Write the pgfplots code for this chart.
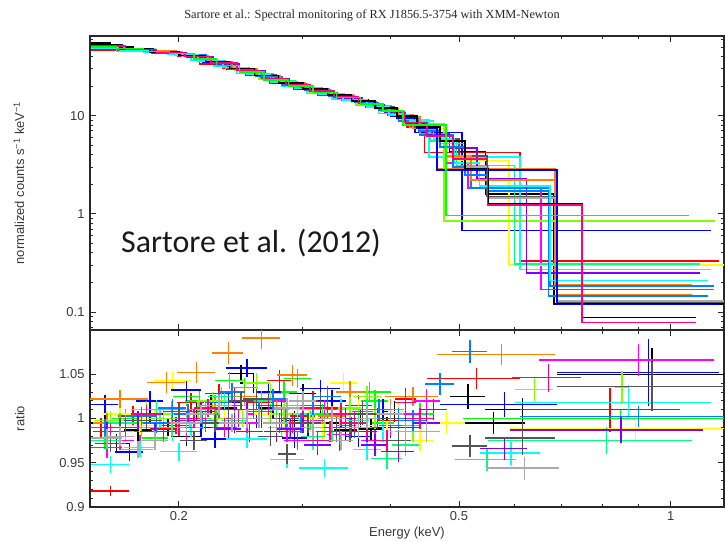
\documentclass[border=0pt]{standalone}
\usepackage{fontspec}
\setmainfont{Liberation Sans}
\newfontfamily\serifT{Liberation Serif}
\newfontfamily\calib{Carlito}
\usepackage{pgfplots}
\usepackage{pgfplotstable}
\pgfplotsset{compat=1.18}
\definecolor{xk}{HTML}{000000}
\definecolor{xr}{HTML}{FF0000}
\definecolor{xg}{HTML}{00FF00}
\definecolor{xb}{HTML}{0000FF}
\definecolor{xc}{HTML}{00FFFF}
\definecolor{xm}{HTML}{FF00FF}
\definecolor{xy}{HTML}{FFFF00}
\definecolor{xo}{HTML}{FF8000}
\definecolor{xl}{HTML}{80FF00}
\definecolor{xs}{HTML}{00FF80}
\definecolor{xa}{HTML}{0080FF}
\definecolor{xv}{HTML}{8000FF}
\definecolor{xp}{HTML}{FF0080}
\definecolor{xd}{HTML}{555555}
\definecolor{xe}{HTML}{AAAAAA}
\definecolor{lab}{RGB}{55,55,65}
\definecolor{axc}{RGB}{40,40,40}

\pgfplotsset{
  xspec/.style={
    scale only axis, xmin=0.1495, xmax=1.19,
    axis line style={draw=axc, line width=1.2bp},
    every tick/.style={draw=axc, line width=0.9bp},
    tick align=inside, xtick pos=both, ytick pos=both,
    major tick length=6bp, minor tick length=3.5bp,
    xtick={0.2,0.5,1}, minor xtick={0.3,0.4,0.6,0.7,0.8,0.9},
    every tick label/.append style={font=\fontsize{13}{13}\selectfont, text=lab},
    every axis label/.append style={font=\fontsize{13}{13}\selectfont, text=lab},
    /pgf/number format/assume math mode=true,
  },
}

% ratio data: x y ex ey
\pgfplotstableread[row sep=\\]{x y ex ey\\
0.157 0.995 0.007 0.010\\ 0.175 0.987 0.008 0.012\\ 0.193 0.990 0.008 0.010\\ 0.212 1.008 0.009 0.010\\
0.232 1.012 0.010 0.009\\ 0.245 1.051 0.010 0.009\\ 0.268 1.022 0.011 0.010\\ 0.292 0.998 0.012 0.010\\
0.318 1.010 0.012 0.011\\ 0.345 0.987 0.013 0.011\\ 0.375 0.988 0.014 0.012\\ 0.405 1.008 0.014 0.012\\
0.515 1.025 0.030 0.014\\ 0.615 1.010 0.070 0.013\\ 0.560 0.995 0.060 0.012\\ 0.940 1.050 0.250 0.030\\
0.163 0.972 0.0075 0.011\\ 0.182 1.005 0.008 0.011\\ 0.205 0.980 0.009 0.011\\ 0.222 1.015 0.010 0.011\\
0.255 1.040 0.011 0.011\\ 0.272 1.012 0.012 0.011\\ 0.300 1.028 0.013 0.011\\ 0.330 0.995 0.015 0.011\\
0.362 1.000 0.016 0.012\\ 0.395 0.990 0.018 0.012\\ 0.440 1.000 0.020 0.012\\
}\rK
\pgfplotstableread[row sep=\\]{x y ex ey\\
0.160 0.918 0.010 0.006\\ 0.180 1.000 0.009 0.010\\ 0.198 0.992 0.009 0.010\\ 0.218 1.005 0.010 0.010\\
0.240 1.025 0.010 0.010\\ 0.262 1.018 0.011 0.010\\ 0.278 1.043 0.011 0.012\\ 0.300 1.003 0.012 0.011\\
0.325 1.012 0.012 0.011\\ 0.352 0.990 0.013 0.012\\ 0.383 1.000 0.014 0.012\\ 0.420 1.022 0.015 0.012\\
0.530 1.045 0.080 0.012\\ 0.820 1.010 0.210 0.025\\
0.155 0.990 0.007 0.011\\ 0.172 1.003 0.008 0.011\\ 0.190 0.988 0.008 0.011\\ 0.208 1.018 0.009 0.011\\
0.228 1.028 0.010 0.011\\ 0.252 0.985 0.011 0.011\\ 0.275 1.010 0.012 0.011\\ 0.310 1.020 0.014 0.011\\
0.338 0.975 0.015 0.012\\ 0.360 1.015 0.016 0.012\\ 0.400 0.998 0.018 0.012\\ 0.460 1.010 0.020 0.012\\
}\rR
\pgfplotstableread[row sep=\\]{x y ex ey\\
0.157 0.975 0.007 0.010\\ 0.176 0.995 0.009 0.010\\ 0.195 1.010 0.009 0.010\\ 0.214 1.020 0.010 0.011\\
0.236 1.043 0.011 0.010\\ 0.258 1.010 0.011 0.010\\ 0.282 1.030 0.012 0.012\\ 0.307 0.998 0.012 0.011\\
0.373 1.030 0.027 0.011\\ 0.360 1.000 0.013 0.012\\ 0.390 0.995 0.014 0.012\\ 0.440 1.005 0.020 0.013\\
0.848 1.000 0.342 0.010\\
0.168 1.000 0.0075 0.011\\ 0.185 0.978 0.008 0.011\\ 0.205 1.025 0.009 0.011\\ 0.226 1.000 0.010 0.011\\
0.248 1.035 0.011 0.011\\ 0.270 1.005 0.012 0.011\\ 0.295 1.045 0.013 0.011\\ 0.320 1.005 0.014 0.011\\
0.350 0.985 0.016 0.012\\ 0.380 1.020 0.017 0.012\\ 0.420 0.992 0.019 0.012\\
}\rG
\pgfplotstableread[row sep=\\]{x y ex ey\\
0.157 1.016 0.007 0.010\\ 0.170 0.962 0.008 0.010\\ 0.190 0.985 0.009 0.010\\ 0.205 1.032 0.010 0.012\\
0.225 0.977 0.010 0.010\\ 0.250 1.057 0.017 0.010\\ 0.268 1.030 0.011 0.011\\ 0.292 0.978 0.012 0.011\\
0.318 1.034 0.021 0.010\\ 0.340 1.000 0.013 0.011\\ 0.370 1.005 0.014 0.012\\ 0.400 0.990 0.015 0.012\\
0.580 1.016 0.110 0.014\\ 0.930 1.052 0.240 0.038\\
0.165 0.985 0.0075 0.011\\ 0.182 1.020 0.008 0.011\\ 0.200 1.005 0.009 0.011\\ 0.215 0.990 0.010 0.011\\
0.235 1.018 0.010 0.011\\ 0.258 1.000 0.011 0.011\\ 0.280 1.012 0.012 0.011\\ 0.305 0.990 0.013 0.011\\
0.330 1.020 0.015 0.012\\ 0.360 0.980 0.016 0.012\\ 0.390 1.010 0.018 0.012\\ 0.430 0.985 0.019 0.012\\
}\rB
\pgfplotstableread[row sep=\\]{x y ex ey\\
0.160 0.948 0.010 0.010\\ 0.176 0.967 0.009 0.010\\ 0.200 0.9625 0.012 0.010\\ 0.215 1.010 0.010 0.010\\
0.250 0.977 0.017 0.010\\ 0.285 0.954 0.016 0.010\\ 0.300 1.005 0.012 0.010\\ 0.322 0.944 0.026 0.010\\
0.350 1.000 0.013 0.011\\ 0.390 0.985 0.014 0.012\\ 0.450 0.995 0.020 0.012\\ 0.593 0.961 0.058 0.013\\
0.870 1.018 0.270 0.020\\
0.168 0.985 0.0075 0.011\\ 0.188 1.000 0.008 0.011\\ 0.208 0.990 0.009 0.011\\ 0.232 1.020 0.010 0.011\\
0.260 1.000 0.011 0.011\\ 0.280 0.990 0.012 0.011\\ 0.310 0.975 0.014 0.011\\ 0.340 1.010 0.015 0.012\\
0.370 0.965 0.017 0.012\\ 0.410 1.000 0.018 0.012\\
}\rC
\pgfplotstableread[row sep=\\]{x y ex ey\\
0.158 0.967 0.008 0.012\\ 0.176 0.985 0.009 0.010\\ 0.196 1.000 0.009 0.010\\ 0.218 0.995 0.010 0.010\\
0.240 1.015 0.010 0.010\\ 0.262 1.005 0.011 0.011\\ 0.285 0.985 0.012 0.011\\ 0.310 0.998 0.012 0.011\\
0.338 0.982 0.013 0.011\\ 0.365 1.008 0.013 0.012\\ 0.400 0.992 0.015 0.012\\ 0.450 1.020 0.020 0.013\\
0.900 1.066 0.250 0.018\\
0.165 0.975 0.0075 0.011\\ 0.185 0.990 0.008 0.011\\ 0.205 0.985 0.009 0.011\\ 0.228 1.010 0.010 0.011\\
0.250 0.995 0.011 0.011\\ 0.272 1.020 0.012 0.011\\ 0.295 0.975 0.013 0.011\\ 0.322 1.010 0.014 0.011\\
0.350 0.992 0.016 0.012\\ 0.380 0.975 0.017 0.012\\ 0.420 1.005 0.019 0.012\\
}\rM
\pgfplotstableread[row sep=\\]{x y ex ey\\
0.165 1.005 0.009 0.010\\ 0.185 1.000 0.010 0.010\\ 0.196 1.043 0.012 0.010\\ 0.232 1.000 0.010 0.010\\
0.258 1.015 0.011 0.010\\ 0.283 0.995 0.011 0.011\\ 0.306 1.000 0.012 0.010\\ 0.343 1.040 0.015 0.011\\
0.370 0.992 0.013 0.012\\ 0.410 1.008 0.014 0.012\\ 0.480 0.995 0.030 0.012\\ 0.890 0.989 0.300 0.016\\
0.158 0.998 0.007 0.011\\ 0.176 0.992 0.008 0.011\\ 0.215 1.010 0.010 0.011\\ 0.245 1.020 0.011 0.011\\
0.268 1.005 0.012 0.011\\ 0.295 1.010 0.013 0.011\\ 0.320 0.985 0.014 0.011\\ 0.360 1.010 0.016 0.012\\
0.395 0.985 0.018 0.012\\ 0.440 0.975 0.020 0.012\\
}\rY
\pgfplotstableread[row sep=\\]{x y ex ey\\
0.165 1.022 0.016 0.010\\ 0.192 1.041 0.012 0.012\\ 0.212 1.052 0.013 0.012\\ 0.235 1.074 0.012 0.012\\
0.262 1.091 0.016 0.012\\ 0.290 1.049 0.014 0.012\\ 0.330 1.003 0.015 0.011\\ 0.370 1.005 0.020 0.012\\
0.430 1.025 0.037 0.011\\ 0.575 1.072 0.110 0.012\\
0.158 0.995 0.007 0.011\\ 0.180 1.005 0.008 0.011\\ 0.200 0.995 0.009 0.011\\ 0.225 1.015 0.010 0.011\\
0.248 1.025 0.011 0.011\\ 0.275 1.010 0.012 0.011\\ 0.310 0.995 0.014 0.011\\ 0.350 1.030 0.016 0.012\\
0.400 1.010 0.018 0.012\\
}\rO
\pgfplotstableread[row sep=\\]{x y ex ey\\
0.160 0.998 0.008 0.010\\ 0.180 1.010 0.009 0.010\\ 0.200 1.005 0.010 0.010\\ 0.223 1.020 0.010 0.010\\
0.246 1.000 0.011 0.010\\ 0.270 1.028 0.011 0.011\\ 0.295 1.015 0.012 0.011\\ 0.322 0.990 0.012 0.011\\
0.350 1.012 0.013 0.012\\ 0.380 1.000 0.014 0.012\\ 0.430 0.985 0.020 0.012\\ 0.640 1.033 0.040 0.013\\
0.852 1.035 0.020 0.019\\
0.165 0.985 0.0075 0.011\\ 0.190 1.000 0.009 0.011\\ 0.213 1.010 0.010 0.011\\ 0.235 1.000 0.010 0.011\\
0.258 1.040 0.011 0.011\\ 0.282 1.005 0.012 0.011\\ 0.310 1.010 0.014 0.011\\ 0.338 1.000 0.015 0.012\\
0.370 1.025 0.017 0.012\\ 0.410 1.000 0.018 0.012\\
}\rL
\pgfplotstableread[row sep=\\]{x y ex ey\\
0.158 0.975 0.008 0.010\\ 0.177 0.990 0.009 0.010\\ 0.196 0.985 0.009 0.010\\ 0.218 1.010 0.010 0.010\\
0.240 0.998 0.010 0.010\\ 0.262 1.020 0.011 0.011\\ 0.287 0.990 0.012 0.011\\ 0.310 0.980 0.012 0.011\\
0.395 0.955 0.020 0.012\\ 0.360 0.998 0.013 0.012\\ 0.548 0.954 0.055 0.013\\ 0.810 0.975 0.260 0.015\\
0.165 0.995 0.0075 0.011\\ 0.186 1.010 0.008 0.011\\ 0.207 1.000 0.009 0.011\\ 0.230 1.025 0.010 0.011\\
0.250 1.010 0.011 0.011\\ 0.275 1.000 0.012 0.011\\ 0.300 1.015 0.013 0.011\\ 0.330 0.985 0.015 0.012\\
0.370 1.010 0.017 0.012\\ 0.420 0.970 0.019 0.012\\
}\rS
\pgfplotstableread[row sep=\\]{x y ex ey\\
0.157 0.990 0.007 0.010\\ 0.177 1.003 0.009 0.010\\ 0.196 1.012 0.009 0.010\\ 0.216 0.998 0.010 0.010\\
0.238 1.030 0.010 0.010\\ 0.260 1.008 0.011 0.011\\ 0.284 1.000 0.012 0.011\\ 0.310 1.015 0.012 0.011\\
0.335 0.985 0.013 0.011\\ 0.470 1.039 0.022 0.012\\ 0.410 1.000 0.014 0.012\\ 0.518 1.076 0.030 0.013\\
0.900 1.002 0.290 0.012\\
0.165 0.980 0.0075 0.011\\ 0.186 0.995 0.008 0.011\\ 0.206 1.005 0.009 0.011\\ 0.228 1.018 0.010 0.011\\
0.250 1.000 0.011 0.011\\ 0.272 1.022 0.012 0.011\\ 0.298 0.995 0.013 0.011\\ 0.325 1.025 0.015 0.012\\
0.355 0.990 0.016 0.012\\ 0.385 1.010 0.017 0.012\\ 0.430 0.998 0.019 0.012\\
}\rA
\pgfplotstableread[row sep=\\]{x y ex ey\\
0.165 0.990 0.009 0.010\\ 0.185 0.985 0.009 0.010\\ 0.205 0.998 0.010 0.010\\ 0.235 0.988 0.010 0.010\\
0.250 1.010 0.011 0.010\\ 0.275 0.985 0.011 0.011\\ 0.300 0.995 0.012 0.011\\ 0.410 0.963 0.022 0.012\\
0.370 0.985 0.013 0.012\\ 0.450 0.995 0.020 0.012\\ 0.580 0.966 0.045 0.013\\ 0.850 0.987 0.260 0.015\\
0.158 0.985 0.007 0.011\\ 0.175 0.998 0.008 0.011\\ 0.195 0.990 0.009 0.011\\ 0.215 1.008 0.010 0.011\\
0.240 0.995 0.011 0.011\\ 0.262 1.000 0.012 0.011\\ 0.288 0.988 0.013 0.011\\ 0.315 0.970 0.014 0.011\\
0.345 1.000 0.015 0.012\\ 0.380 0.970 0.017 0.012\\ 0.420 0.990 0.019 0.012\\
}\rV
\pgfplotstableread[row sep=\\]{x y ex ey\\
0.160 0.985 0.008 0.010\\ 0.180 1.005 0.009 0.010\\ 0.200 0.990 0.010 0.010\\ 0.220 1.012 0.010 0.010\\
0.243 1.000 0.010 0.010\\ 0.268 1.015 0.011 0.011\\ 0.290 0.995 0.012 0.011\\ 0.315 0.975 0.012 0.011\\
0.340 1.005 0.013 0.012\\ 0.370 0.990 0.013 0.012\\ 0.420 1.018 0.015 0.012\\ 0.670 1.046 0.075 0.016\\
0.168 0.990 0.0075 0.011\\ 0.190 0.985 0.008 0.011\\ 0.210 1.000 0.009 0.011\\ 0.232 0.990 0.010 0.011\\
0.255 1.010 0.011 0.011\\ 0.278 0.995 0.012 0.011\\ 0.300 1.012 0.013 0.011\\ 0.328 0.985 0.015 0.012\\
0.355 0.995 0.016 0.012\\ 0.395 0.975 0.018 0.012\\ 0.440 1.000 0.020 0.012\\
}\rP
\pgfplotstableread[row sep=\\]{x y ex ey\\
0.160 0.972 0.008 0.010\\ 0.180 0.998 0.009 0.010\\ 0.200 1.008 0.010 0.010\\ 0.225 0.995 0.010 0.010\\
0.245 1.020 0.010 0.010\\ 0.270 0.980 0.011 0.011\\ 0.285 0.960 0.008 0.011\\ 0.318 1.019 0.010 0.011\\
0.350 0.985 0.013 0.012\\ 0.400 1.000 0.014 0.012\\ 0.518 0.969 0.030 0.012\\ 0.615 0.978 0.070 0.019\\
0.940 1.036 0.250 0.028\\
0.165 0.990 0.0075 0.011\\ 0.190 0.985 0.008 0.011\\ 0.210 0.975 0.009 0.011\\ 0.235 1.010 0.010 0.011\\
0.258 1.022 0.011 0.011\\ 0.280 1.000 0.012 0.011\\ 0.305 0.995 0.013 0.011\\ 0.335 0.990 0.015 0.012\\
0.365 1.005 0.016 0.012\\ 0.410 0.975 0.018 0.012\\
}\rD
\pgfplotstableread[row sep=\\]{x y ex ey\\
0.158 0.978 0.008 0.010\\ 0.175 0.965 0.009 0.010\\ 0.195 0.990 0.009 0.010\\ 0.215 1.005 0.010 0.010\\
0.238 0.995 0.010 0.010\\ 0.260 1.000 0.011 0.011\\ 0.285 1.012 0.012 0.011\\ 0.310 0.990 0.012 0.011\\
0.340 0.975 0.013 0.011\\ 0.370 1.000 0.013 0.012\\ 0.420 0.985 0.015 0.012\\ 0.620 0.944 0.074 0.013\\
0.165 0.980 0.0075 0.011\\ 0.185 0.975 0.008 0.011\\ 0.205 0.995 0.009 0.011\\ 0.228 1.015 0.010 0.011\\
0.250 1.000 0.011 0.011\\ 0.275 0.995 0.012 0.011\\ 0.300 1.020 0.013 0.011\\ 0.330 1.000 0.015 0.012\\
0.360 0.990 0.016 0.012\\ 0.400 1.005 0.018 0.012\\ 0.450 0.985 0.020 0.012\\
}\rE

\newcommand{\rplot}[2]{\addplot[draw=none, mark=none,
  error bars/x dir=both, error bars/x explicit,
  error bars/y dir=both, error bars/y explicit,
  error bars/error mark=none,
  error bars/error bar style={line width=1.4bp, draw=#1, solid}]
  table[x=x, y=y, x error=ex, y error=ey] {#2};}
\newcommand{\spec}[2]{\addplot[const plot mark left, line width=1.5bp, color=#1] coordinates {#2};}

\begin{document}
\begin{tikzpicture}
\useasboundingbox (0,0) rectangle (725bp,542bp);
\begin{axis}[xspec, xmode=log, ymode=log, at={(90bp,212bp)}, anchor=south west, width=634bp, height=294bp,
  ymin=0.0656, ymax=64.8,
  xticklabels={},
  ytick={0.1,1,10}, yticklabels={0.1,1,10},
  minor ytick={0.07,0.08,0.09,0.2,0.3,0.4,0.5,0.6,0.7,0.8,0.9,2,3,4,5,6,7,8,9,20,30,40,50,60},
  yticklabel style={xshift=-2bp},
  ylabel={normalized counts s\textsuperscript{−1} keV\textsuperscript{−1}},
  ylabel style={at={(axis description cs:-0.112,0.5)}, anchor=center},
]
\spec{xk}{(0.150,55)(0.160,50)(0.172,46.5)(0.186,44)(0.201,41)(0.216,36)(0.233,31)(0.251,26.5)(0.272,22)(0.294,19.3)(0.318,16.8)(0.344,14.6)(0.372,12.4)(0.398,10.3)(0.424,8.2)(0.452,6.6)(0.485,4.3)(0.545,1.6)(0.682,0.12)(1.19,0.12)}
\spec{xr}{(0.150,46.5)(0.168,47)(0.183,43.5)(0.199,40)(0.214,33.5)(0.231,30.5)(0.249,26)(0.269,21.5)(0.291,18.8)(0.315,16.3)(0.341,14.4)(0.369,12.2)(0.396,10.0)(0.422,7.7)(0.447,4.2)(0.61,0.33)(1.17,0.33)}
\spec{xb}{(0.150,51)(0.166,47)(0.183,44.5)(0.199,41.5)(0.216,35)(0.234,30)(0.252,26)(0.272,21.5)(0.295,18.8)(0.32,16.5)(0.345,14.3)(0.372,12.2)(0.40,9.8)(0.433,6.7)(0.505,0.68)(1.14,0.68)}
\spec{xc}{(0.150,48.5)(0.163,45)(0.178,44)(0.193,42)(0.208,37)(0.224,32)(0.242,27)(0.26,23.5)(0.28,19.8)(0.304,17)(0.33,14.8)(0.357,12.8)(0.384,10.5)(0.412,9.0)(0.453,3.8)(0.61,0.27)(1.14,0.27)}
\spec{xm}{(0.150,52)(0.168,47.5)(0.185,44)(0.203,40.5)(0.22,35)(0.24,29)(0.26,24.5)(0.28,20.5)(0.302,18)(0.327,15.6)(0.354,13.6)(0.382,11.5)(0.41,9.3)(0.44,6.3)(0.48,3.3)(0.515,1.83)(0.654,0.17)(1.15,0.17)}
\spec{xy}{(0.150,51.5)(0.165,47)(0.182,44)(0.2,41)(0.218,35.5)(0.236,29.5)(0.256,25.5)(0.277,21.5)(0.3,18.5)(0.325,16.2)(0.352,13.8)(0.38,11.6)(0.408,9.2)(0.438,7.3)(0.477,3.5)(0.589,0.30)(1.19,0.30)}
\spec{xo}{(0.150,53)(0.165,48)(0.18,45.5)(0.198,42)(0.215,36)(0.233,30.5)(0.252,26.5)(0.272,22)(0.295,19.2)(0.32,16.5)(0.346,14.3)(0.374,12.5)(0.40,10.2)(0.43,7.4)(0.465,2.87)(0.685,0.19)(1.07,0.19)}
\spec{xl}{(0.150,50.5)(0.167,47.5)(0.185,44)(0.205,39)(0.222,34)(0.24,29)(0.26,24)(0.281,21)(0.305,17.5)(0.33,15.5)(0.358,13.2)(0.387,11)(0.415,9.0)(0.445,8.2)(0.476,0.85)(1.155,0.85)}
\spec{xs}{(0.15,51)(0.164,47)(0.18,44.5)(0.198,42)(0.214,36.5)(0.232,31)(0.25,27)(0.27,22.5)(0.293,19.2)(0.318,16.8)(0.343,14.6)(0.37,12.6)(0.398,10.2)(0.425,7.6)(0.455,5.5)(0.496,3.1)(0.60,0.31)(1.10,0.31)}
\spec{xa}{(0.15,52)(0.166,47.3)(0.183,44.5)(0.2,41.3)(0.219,35)(0.238,29.5)(0.258,25)(0.28,21)(0.303,18.3)(0.328,15.8)(0.355,13.7)(0.384,11.4)(0.41,8.8)(0.44,6.4)(0.49,3.0)(0.52,1.84)(0.673,0.185)(1.15,0.185)}
\spec{xv}{(0.15,50)(0.167,46.5)(0.186,43.5)(0.205,39.5)(0.224,33.5)(0.244,28.5)(0.265,23.5)(0.287,20)(0.31,17.2)(0.336,15.2)(0.364,13)(0.392,10.8)(0.42,8.3)(0.448,6.5)(0.485,4.7)(0.53,2.3)(0.624,0.25)(1.10,0.25)}
\spec{xd}{(0.15,52)(0.165,47.5)(0.182,44.5)(0.2,41)(0.217,35.5)(0.235,30)(0.254,26)(0.275,21.8)(0.298,19)(0.322,16.5)(0.35,14.2)(0.378,12.2)(0.405,10)(0.432,7.7)(0.465,5.8)(0.5,3.9)(0.548,1.5)(0.69,0.125)(1.19,0.125)}
\spec{xe}{(0.15,51.5)(0.167,46.8)(0.184,44)(0.202,40.5)(0.22,34.8)(0.238,29.8)(0.258,25.2)(0.279,21.2)(0.302,18.6)(0.326,16.2)(0.353,14)(0.381,11.8)(0.41,9.6)(0.438,7.2)(0.47,5.2)(0.51,3.0)(0.55,1.45)(0.69,0.13)(1.19,0.13)}
\spec{xc}{(0.15,49.5)(0.165,46)(0.181,44)(0.197,41.5)(0.213,36)(0.231,31)(0.25,26.5)(0.27,22)(0.292,19)(0.316,16.6)(0.342,14.4)(0.37,12.3)(0.398,10.2)(0.425,8.8)(0.46,5.8)(0.493,3.3)(0.535,1.93)(0.673,0.21)(1.13,0.21)}
\spec{xo}{(0.15,52)(0.167,47.6)(0.184,44.3)(0.202,40.8)(0.22,35.2)(0.238,30)(0.258,25.4)(0.279,21.4)(0.302,18.7)(0.327,16.2)(0.354,14)(0.382,11.9)(0.41,9.7)(0.44,6.6)(0.48,3.9)(0.52,2.2)(0.69,0.15)(1.07,0.15)}
\spec{xa}{(0.15,51)(0.166,47.2)(0.183,44.2)(0.201,41)(0.219,35.2)(0.237,30)(0.257,25.5)(0.278,21.3)(0.301,18.6)(0.326,16.1)(0.353,13.9)(0.381,11.8)(0.409,9.4)(0.438,7.0)(0.47,4.8)(0.51,2.5)(0.55,1.7)(0.67,0.145)(1.13,0.145)}
\spec{xb}{(0.15,52.5)(0.166,47.8)(0.184,44.2)(0.201,41)(0.218,35.3)(0.236,30.3)(0.256,25.6)(0.277,21.4)(0.3,18.7)(0.325,16.2)(0.352,14)(0.38,11.9)(0.408,9.5)(0.435,7.5)(0.465,2.8)(0.689,0.119)(1.17,0.119)}
\spec{xk}{(0.15,53)(0.165,48)(0.182,44.6)(0.2,41.2)(0.218,35.6)(0.236,30.2)(0.256,25.8)(0.277,21.6)(0.3,18.9)(0.325,16.4)(0.352,14.1)(0.38,12)(0.408,9.9)(0.436,7.7)(0.47,5.5)(0.51,2.9)(0.55,1.26)(0.748,0.088)(1.085,0.088)}
\spec{xp}{(0.15,51)(0.168,47)(0.186,43.5)(0.204,40)(0.222,34.5)(0.242,29)(0.262,24)(0.284,20.5)(0.307,17.8)(0.332,15.5)(0.36,13.3)(0.39,11)(0.418,8.5)(0.45,6.2)(0.49,3.6)(0.549,1.23)(0.748,0.078)(1.085,0.078)}
\spec{xg}{(0.150,50)(0.163,48.5)(0.178,45)(0.194,43)(0.21,38)(0.226,32.5)(0.244,28)(0.264,23.2)(0.286,20)(0.31,17.3)(0.335,15.3)(0.362,13.1)(0.39,11.2)(0.416,8.0)(0.479,0.96)(1.06,0.96)}
\end{axis}

\begin{axis}[xspec, xmode=log, at={(90bp,35bp)}, anchor=south west, width=634bp, height=177bp,
  ymin=0.9, ymax=1.1,
  xticklabels={0.2,0.5,1},
  ytick={0.9,0.95,1,1.05}, yticklabels={0.9,0.95,1,1.05},
  minor y tick num=4,
  yticklabel style={xshift=-2bp},
  xticklabel style={yshift=-1bp},
  xlabel={Energy (keV)},
  xlabel style={at={(axis description cs:0.5,-0.147)}, anchor=center},
  ylabel={ratio},
  ylabel style={at={(axis description cs:-0.111,0.5)}, anchor=center},
]
\rplot{xk}{\rK}
\rplot{xr}{\rR}
\rplot{xg}{\rG}
\rplot{xb}{\rB}
\rplot{xc}{\rC}
\rplot{xm}{\rM}
\rplot{xy}{\rY}
\rplot{xo}{\rO}
\rplot{xl}{\rL}
\rplot{xs}{\rS}
\rplot{xa}{\rA}
\rplot{xv}{\rV}
\rplot{xp}{\rP}
\rplot{xd}{\rD}
\rplot{xe}{\rE}
\end{axis}

\node[font=\serifT\fontsize{12.4}{12.4}\selectfont, text=black!85] at (372bp,527bp)
  {Sartore et al.: Spectral monitoring of RX J1856.5-3754 with XMM-Newton};
\node[font=\calib\fontsize{32}{32}\selectfont, text=black!90] at (251bp,299bp)
  {Sartore et al. (2012)};
\end{tikzpicture}
\end{document}
